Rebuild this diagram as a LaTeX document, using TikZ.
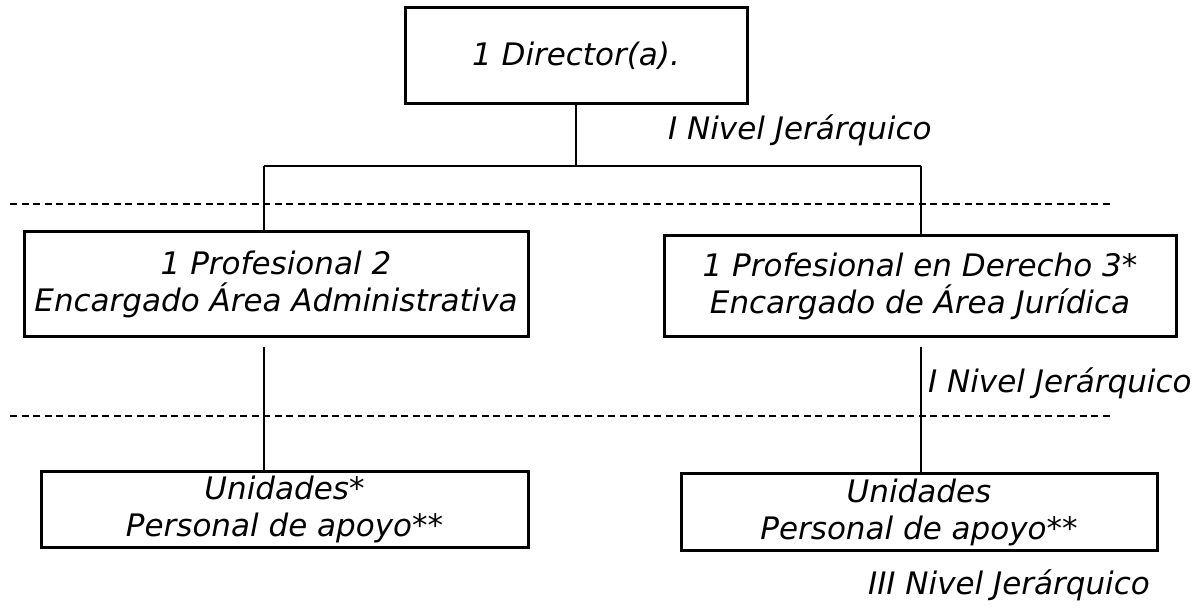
\documentclass[tikz,border=0pt]{standalone}
\usepackage{fontspec}
\setmainfont{DejaVu Sans}
\usepackage{tikz}
\usetikzlibrary{positioning}

\begin{document}
\begin{tikzpicture}[
    x=1pt, y=-1pt,
    box/.style={draw, line width=3pt, inner sep=0pt, align=center, font=\fontsize{31}{37}\selectfont\itshape},
    conn/.style={line width=2.4pt},
    nivline/.style={line width=2.2pt, dash pattern=on 7pt off 4.5pt},
    niv/.style={anchor=west, inner sep=0pt, font=\fontsize{31}{37}\selectfont\itshape}
]
\useasboundingbox (0,0) rectangle (1192,609);
% cajas
\node[box, minimum width=342pt, minimum height=96pt] (dir) at (576,56) {1 Director(a).};
\node[box, minimum width=504pt, minimum height=105pt] (adm) at (276,284.5) {1 Profesional 2\\Encargado Área Administrativa};
\node[box, minimum width=512pt, minimum height=101pt] (jur) at (920,286.5) {1 Profesional en Derecho 3*\\Encargado de Área Jurídica};
\node[box, minimum width=487pt, minimum height=75pt] (uniA) at (284.5,509.5) {Unidades*\\Personal de apoyo**};
\node[box, minimum width=476pt, minimum height=76pt] (uniB) at (919,512) {Unidades\\Personal de apoyo**};
% niveles
\node[niv] (niv1) at (668,130) {I Nivel Jerárquico};
\node[niv] (niv2) at (928,383) {I Nivel Jerárquico};
\node[niv] (niv3) at (868,585) {III Nivel Jerárquico};
% lineas
\coordinate (t1) at (264,166);
\coordinate (t2) at (921,166);
\coordinate (s1) at (264,347);
\coordinate (s2) at (921,347);
\draw[conn] (dir.south) -- (dir.south |- t1);
\draw[conn] (t1) -- (t2);
\draw[conn] (t1) -- (t1 |- adm.north);
\draw[conn] (t2) -- (t2 |- jur.north);
\draw[conn] (s1) -- (s1 |- uniA.north);
\draw[conn] (s2) -- (s2 |- uniB.north);
\coordinate (d1) at (10,204);
\coordinate (d2) at (10,416);
\draw[nivline] (d1) -- ++(1100,0);
\draw[nivline] (d2) -- ++(1100,0);
\end{tikzpicture}
\end{document}
